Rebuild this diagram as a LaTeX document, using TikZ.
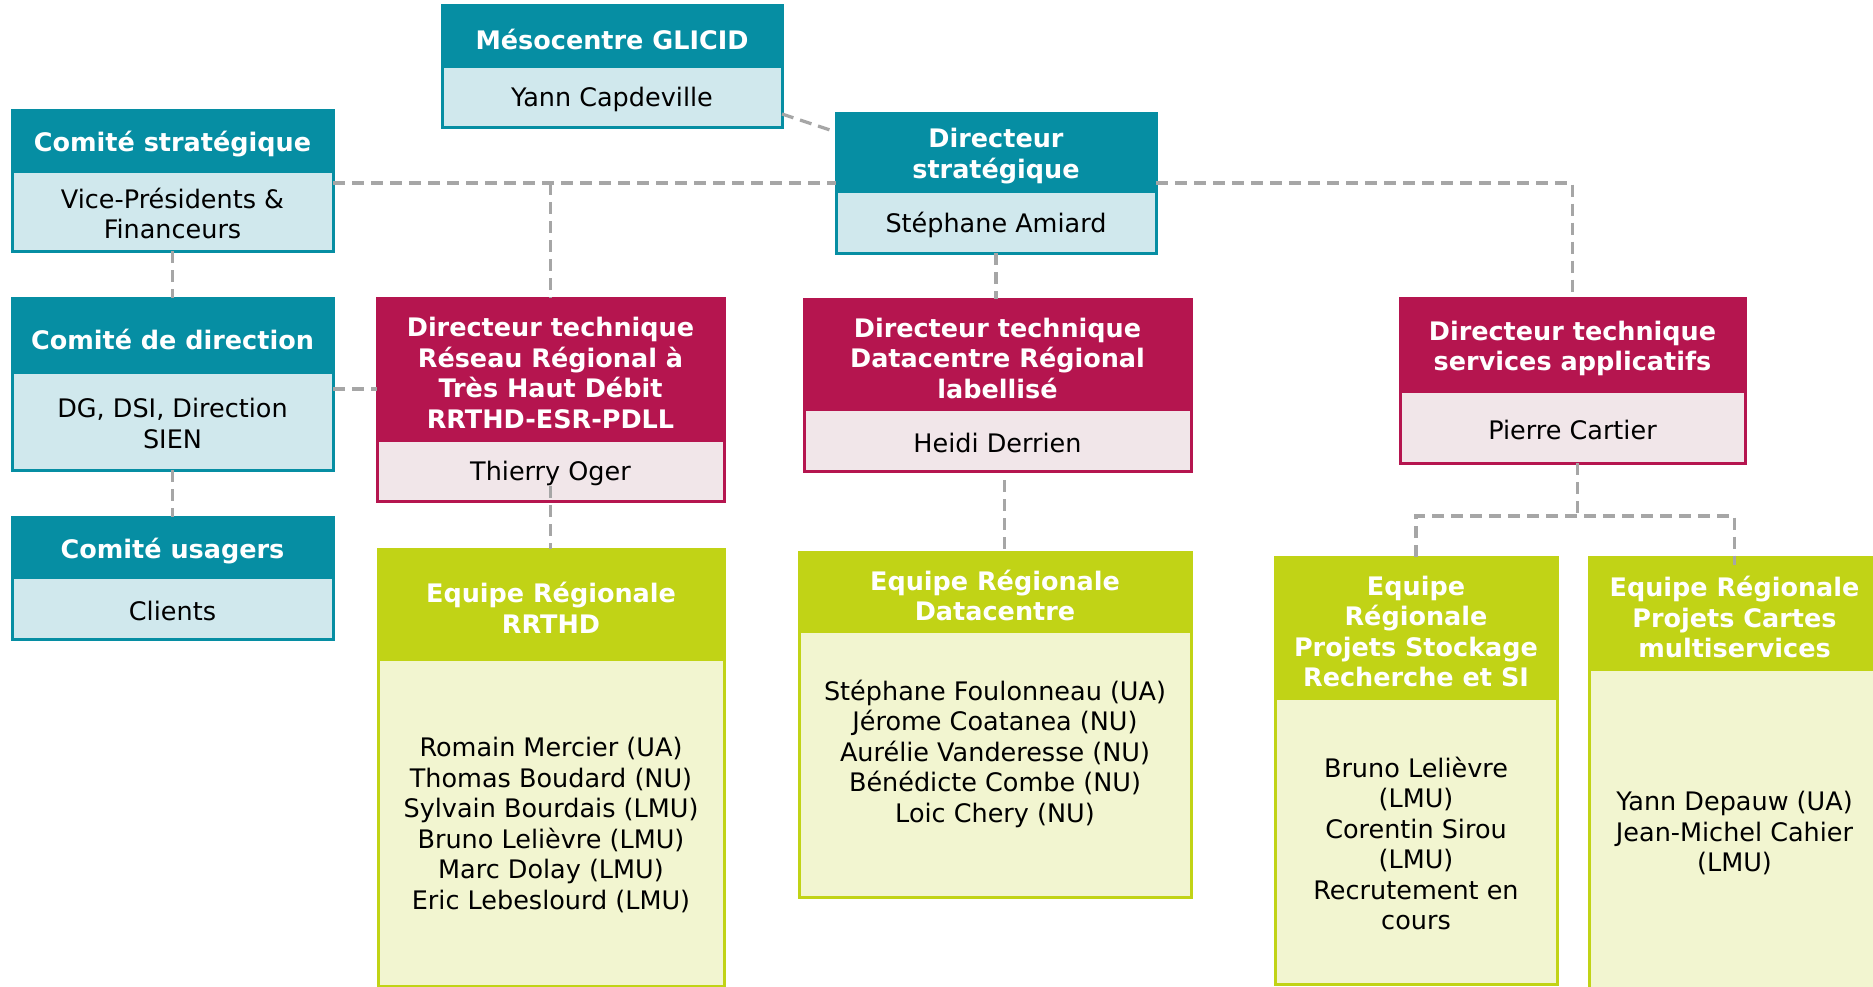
\documentclass[tikz,border=0pt]{standalone}
\usepackage{fontspec}
\setmainfont{DejaVu Sans}
\usetikzlibrary{calc}
\definecolor{tealH}{RGB}{6,142,163}
\definecolor{tealB}{RGB}{208,232,237}
\definecolor{magH}{RGB}{181,21,79}
\definecolor{magB}{RGB}{241,230,233}
\definecolor{limeH}{RGB}{193,211,22}
\definecolor{limeB}{RGB}{242,245,208}
\definecolor{connG}{RGB}{166,166,166}
\tikzset{
  boxshape/.style={inner sep=0pt, outer sep=0pt},
  boxtxt/.style={inner sep=0pt, outer sep=0pt, align=center},
  hdr/.style={boxtxt, text=white, font=\fontsize{25.5pt}{30.5pt}\selectfont\bfseries},
  bdy/.style={boxtxt, text=black, font=\fontsize{25.5pt}{30.5pt}\selectfont},
  conn/.style={draw=connG, line width=3.3pt, dash pattern=on 12pt off 7pt},
}
% #1 name, #2 x1, #3 y1, #4 x2, #5 ysplit, #6 y2, #7 colour prefix, #8 header, #9 body
\newcommand{\orgbx}[9]{%
  \node[boxshape, fill=#7H, minimum width={(#4-#2)*1pt}, minimum height={(#5-#3)*1pt}, anchor=north west] (#1h) at (#2,#3) {};
  \node[boxshape, fill=#7B, minimum width={(#4-#2)*1pt}, minimum height={(#6-#5)*1pt}, anchor=north west] (#1b) at (#2,#5) {};
  \draw[draw=#7H, line width=3pt] (#1h.north west) rectangle (#1b.south east);
  \node[hdr] (#1ht) at ([yshift=-3pt]#1h.center) {#8};
  \node[bdy] (#1bt) at ([yshift=-1.5pt]#1b.center) {#9};
}
\begin{document}
\begin{tikzpicture}[x=1pt,y=-1pt]
\useasboundingbox (0,0) rectangle (1873,986);
\clip (0,0) rectangle (1873,986);
\fill[white] (0,0) rectangle (1873,986);

\orgbx{meso}{442}{5}{782}{68}{127}{teal}{Mésocentre GLICID}{Yann Capdeville}
\orgbx{cs}{12}{110}{333}{173}{251}{teal}{Comité stratégique}{Vice-Présidents \&\\Financeurs}
\orgbx{cd}{12}{298}{333}{374}{470}{teal}{Comité de direction}{DG, DSI, Direction\\SIEN}
\orgbx{cu}{12}{517}{333}{579}{639}{teal}{Comité usagers}{Clients}
\orgbx{ds}{836}{113}{1156}{193}{253}{teal}{Directeur\\stratégique}{Stéphane Amiard}
\orgbx{rr}{377}{298}{724}{442}{501}{mag}{Directeur technique\\Réseau Régional à\\Très Haut Débit\\RRTHD-ESR-PDLL}{Thierry Oger}
\orgbx{dc}{804}{299}{1191}{411}{471}{mag}{Directeur technique\\Datacentre Régional\\labellisé}{Heidi Derrien}
\orgbx{sv}{1400}{298}{1745}{393}{463}{mag}{Directeur technique\\services applicatifs}{Pierre Cartier}
\orgbx{er}{378}{549}{724}{661}{986}{lime}{Equipe Régionale\\RRTHD}{Romain Mercier (UA)\\Thomas Boudard (NU)\\Sylvain Bourdais (LMU)\\Bruno Lelièvre (LMU)\\Marc Dolay (LMU)\\Eric Lebeslourd (LMU)}
\orgbx{ed}{799}{552}{1191}{633}{897}{lime}{Equipe Régionale\\Datacentre}{Stéphane Foulonneau (UA)\\Jérome Coatanea (NU)\\Aurélie Vanderesse (NU)\\Bénédicte Combe (NU)\\Loic Chery (NU)\\\mbox{}}
\orgbx{es}{1275}{557}{1557}{700}{984}{lime}{Equipe\\Régionale\\Projets Stockage\\Recherche et SI}{Bruno Lelièvre\\(LMU)\\Corentin Sirou\\(LMU)\\Recrutement en\\cours}
\orgbx{ec}{1589}{557}{1880}{671}{992}{lime}{Equipe Régionale\\Projets Cartes\\multiservices}{Yann Depauw (UA)\\Jean-Michel Cahier\\(LMU)}

% connectors
\draw[conn] ([yshift=13pt]mesob.south east) -- ([yshift=-19pt]dsh.north west);
\coordinate (c1) at ([yshift=-10pt]csb.north east);
\draw[conn] (c1) -- (c1 -| dsh.west);
\draw[conn] (c1 -| rrh.north) -- (rrh.north);
\draw[conn] (c1 -| dsh.east) -- (c1 -| svh.north) -- (svh.north);
\draw[conn] (csb.south) -- (cdh.north);
\coordinate (c2) at ([yshift=-15pt]cdb.north east);
\draw[conn] (c2) -- (c2 -| rrh.west);
\draw[conn] (cdb.south) -- (cuh.north);
\draw[conn] (dsb.south) -- (dsb.south |- dch.north);
\draw[conn] ([yshift=15pt]rrb.south) -- (rrb.south |- erh.north);
\coordinate (c3) at ([xshift=7pt,yshift=-9pt]dcb.south);
\draw[conn] (c3) -- (c3 |- edh.north);
\coordinate (c4) at ([xshift=5pt]svb.south);
\coordinate (f) at ([yshift=-53pt]c4);
\draw[conn] (c4) -- (f);
\draw[conn] (esh.north) |- (f) -| ([yshift=-8pt]ech.north);
\end{tikzpicture}
\end{document}
